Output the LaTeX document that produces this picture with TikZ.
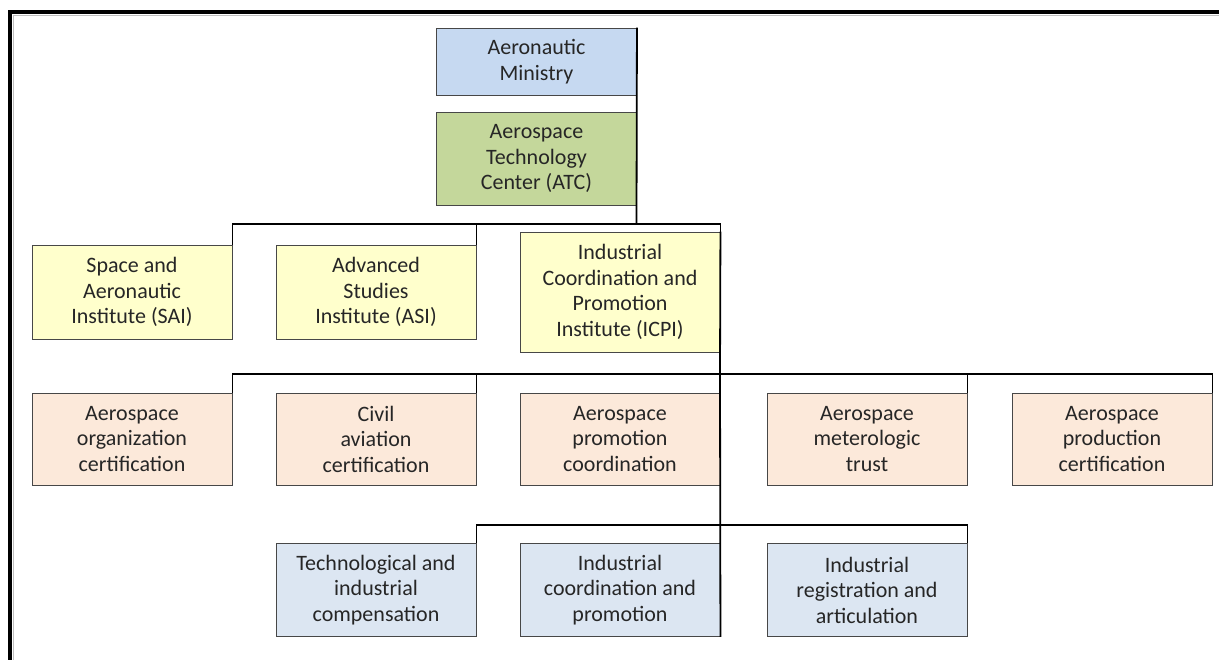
\documentclass[tikz,border=0pt]{standalone}
\usepackage{fontspec}
\setmainfont{Carlito}
\definecolor{minblue}{RGB}{198,217,241}
\definecolor{atcgreen}{RGB}{196,215,155}
\definecolor{instyellow}{RGB}{255,255,204}
\definecolor{deptpeach}{RGB}{252,233,218}
\definecolor{unitblue}{RGB}{220,230,242}
\begin{document}
\begin{tikzpicture}[x=1pt,y=-1pt,
  orgbox/.style={rectangle, draw=black!72, line width=0.9pt, inner sep=0pt,
    minimum width=200pt, align=center, text=black!85,
    font=\fontsize{22}{25.5}\selectfont},
  toprow/.style={orgbox, fill=minblue, minimum height=67pt},
  centerbox/.style={orgbox, fill=atcgreen, minimum height=93pt},
  institute/.style={orgbox, fill=instyellow, minimum height=94pt},
  department/.style={orgbox, fill=deptpeach, minimum height=92pt},
  office/.style={orgbox, fill=unitblue, minimum height=93pt},
  conn/.style={draw=black, line width=1.8pt},
  frameline/.style={draw=black, line width=4pt}
]
\useasboundingbox (0,0) rectangle (1219,660);
% outer frame, open at the right and bottom
\draw[black!25, line width=1.5pt] (13.5,660) -- (13.5,15.5) -- (1219,15.5);
\draw[frameline] (10,660) -- (10,12) -- (1219,12);

% top level
\node[toprow] (min) at (536.5,61.5) {Aeronautic\\Ministry};
\node[centerbox] (atc) at (536.5,158.5) {Aerospace\\Technology\\Center (ATC)};

% institutes
\node[institute] (sai) at (132,292) {Space and\\Aeronautic\\Institute (SAI)};
\node[institute] (asi) at (376,292) {Advanced\\Studies\\Institute (ASI)};
\node[institute, minimum height=120pt] (icpi) at (620,292) {Industrial\\Coordination and\\Promotion\\Institute (ICPI)};

% departments
\node[department] (aoc) at (132,439) {Aerospace\\organization\\certification};
\node[department] (cac) at (376,439) {Civil\\aviation\\certification};
\node[department] (apc) at (620,439) {Aerospace\\promotion\\coordination};
\node[department] (amt) at (867,439) {Aerospace\\meterologic\\trust};
\node[department] (apr) at (1112,439) {Aerospace\\production\\certification};

% offices
\node[office] (tic) at (376,590) {Technological and\\industrial\\compensation};
\node[office] (icp) at (620,590) {Industrial\\coordination and\\promotion};
\node[office] (ira) at (867,590) {Industrial\\registration and\\articulation};

% connectors
\coordinate (j1) at (636.5,224);
\coordinate (j2) at (720,374);
\coordinate (j3) at (720,525);
\draw[conn] (min.north east) -- (j1);
\draw[conn] (sai.north east) |- (j1);
\draw[conn] (j1) -| (asi.north east);
\draw[conn] (j1) -| (icpi.north east);

\draw[conn] (icpi.north east) -- (j2);
\draw[conn] (aoc.north east) |- (j2);
\draw[conn] (j2) -| (cac.north east);
\draw[conn] (j2) -| (amt.north east);
\draw[conn] (j2) -| (apr.north east);

\draw[conn] (j2) -- (icp.south east);
\draw[conn] (tic.north east) |- (j3);
\draw[conn] (j3) -| (ira.north east);
\end{tikzpicture}
\end{document}
